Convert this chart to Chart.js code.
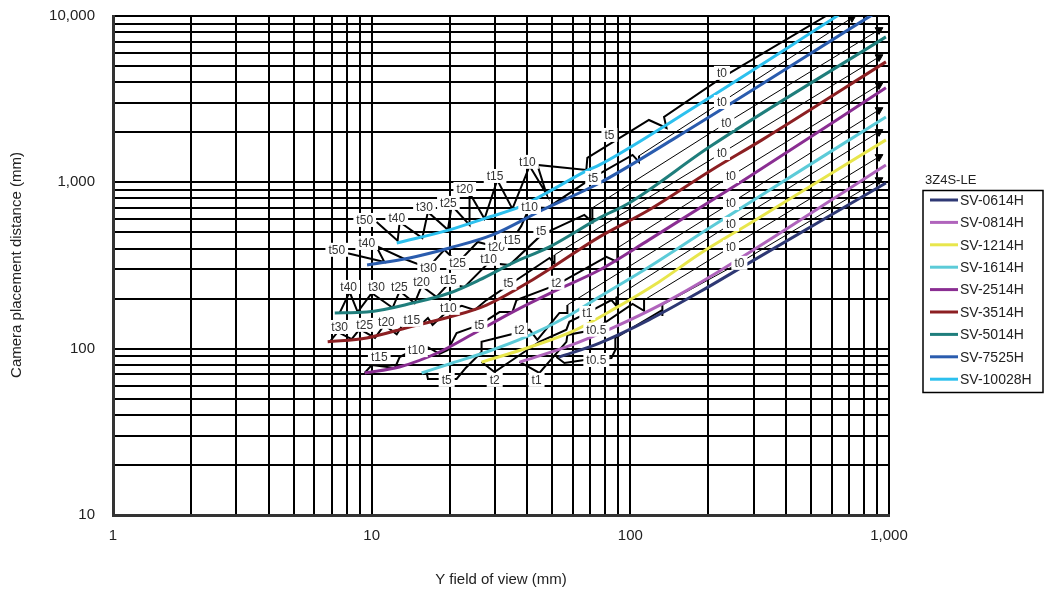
<!DOCTYPE html>
<html>
<head>
<meta charset="utf-8">
<title>3Z4S-LE</title>
<script src="https://cdn.jsdelivr.net/npm/chart.js@4.4.1/dist/chart.umd.min.js"></script>
<style>
  body { margin: 0; background: #fff; }
</style>
</head>
<body>
<canvas id="chartArea" width="1045" height="597"></canvas>
<script>
// Lens names and colours (legend order)
var lensNames = ['SV-0614H', 'SV-0814H', 'SV-1214H', 'SV-1614H', 'SV-2514H', 'SV-3514H', 'SV-5014H', 'SV-7525H', 'SV-10028H'];
var lensColors = ['#2e3874', '#b064bc', '#e8e64c', '#5ccbd8', '#8a2e92', '#8c1f22', '#1f7e7c', '#2a5cae', '#2cc0ee'];

// Tick values
var fovTicks = [1, 2, 3, 4, 5, 6, 7, 8, 9, 10, 20, 30, 40, 50, 60, 70, 80, 90, 100, 200, 300, 400, 500, 600, 700, 800, 900, 1000];
var distTicks = [10, 20, 30, 40, 50, 60, 70, 80, 90, 100, 200, 300, 400, 500, 600, 700, 800, 900, 1000, 2000, 3000, 4000, 5000, 6000, 7000, 8000, 9000, 10000];
var labelledTicks = [1, 10, 100, 1000, 10000];

// Y field of view (mm) -> camera placement distance (mm), one pair per lens
var fov0614 = [53, 76, 118, 185, 288, 973];
var dist0614 = [89, 108, 149, 219, 328, 991];
var fov0814 = [37.3, 58, 85, 133, 215, 973];
var dist0814 = [83, 104, 133, 186, 285, 1273];
var fov1214 = [26.6, 40.7, 61, 88, 129, 185, 296, 973];
var dist1214 = [83, 102, 129, 176, 252, 371, 578, 1800];
var fov1614 = [15.6, 20.5, 27.8, 39.7, 56.6, 76, 118, 202, 973];
var dist1614 = [71.4, 82, 95.5, 118, 155, 205, 310, 532, 2470];
var fov2514 = [9.4, 12.8, 18.3, 24.5, 35, 50, 76, 118, 264, 973];
var dist2514 = [71.5, 77.6, 95.5, 122, 166, 219, 297, 451, 991, 3700];
var fov3514 = [6.76, 9.57, 14, 20, 27.8, 41.8, 76, 118, 207, 323, 973];
var dist3514 = [110, 116, 135, 155, 183, 259, 470, 682, 1190, 1800, 5300];
var fov5014 = [7.2, 9.57, 14.4, 20, 26.1, 35, 48.7, 76, 99, 202, 973];
var dist5014 = [164, 166, 188, 216, 259, 327, 409, 611, 752, 1630, 7490];
var fov7525 = [9.6, 14, 20, 29.3, 45.7, 76, 145, 860];
var dist7525 = [318, 351, 403, 483, 682, 991, 1800, 10160];
var fov10028 = [12.5, 20, 27.8, 37.3, 47.4, 67.6, 76, 185, 641];
var dist10028 = [432, 518, 611, 711, 863, 1171, 1273, 2960, 10160];

// Extension-tube zigzags (thick black), fov / distance
var zig10028x = [10.45, 12.6, 12.83, 15.7, 16.5, 19.7, 20.4, 23.9, 23.9, 27.3, 30.6, 35.0, 40.8, 47.4, 43.7, 67.6, 68.2, 118, 138, 135, 226, 571];
var zig10028y = [578, 445, 578, 463, 664, 518, 726, 555, 863, 603, 1033, 692, 1254, 851, 1273, 1188, 1403, 2371, 2124, 2473, 4260, 10000];
var zig7525x = [8.0, 11.2, 10.4, 13.4, 16.5, 19.1, 21.5, 25.7, 30.4, 32.6, 35.0, 37.9, 40.8, 47.8, 71.3, 102, 108, 108];
var zig7525y = [376, 332, 415, 346, 306, 393, 328, 438, 409, 463, 451, 547, 711, 702, 1063, 1462, 1328, 1443];
var zig5014x = [7.52, 8.22, 8.83, 10.0, 12.05, 12.83, 14.65, 15.6, 17.8, 19.83, 22.86, 28.31, 34.1, 45.3, 66.4, 71.3, 71.3];
var zig5014y = [164, 219, 166, 216, 176, 222, 188, 238, 205, 245, 235, 328, 318, 483, 637, 578, 702];
var zig3514x = [6.88, 7.39, 8.37, 8.99, 10.3, 11.2, 12.5, 13.4, 15.3, 16.5, 17.2, 19.7, 22.3, 25.0, 27.8, 33.5, 48.7, 50.9, 50.9];
var zig3514y = [110, 126, 114, 131, 116, 139, 122, 145, 137, 153, 139, 169, 181, 171, 196, 238, 351, 323, 366];
var zig2514x = [9.40, 10.0, 12.3, 12.83, 14.0, 16.5, 18.3, 19.7, 21.3, 26.1, 31.2, 35.0, 36.3, 51.8, 80.8, 89.1, 89.1];
var zig2514y = [71.5, 79.8, 76.6, 89.1, 95.5, 102, 92.9, 98.2, 124, 139, 166, 166, 196, 242, 356, 332, 403];
var zig1614x = [16.3, 16.5, 21.3, 23.1, 26.6, 26.6, 40.8, 43.7, 53.2, 57.1, 57.1];
var zig1614y = [72.4, 65.8, 65.8, 76.6, 95.5, 110, 130, 113, 164, 164, 183];
var zig1214x = [26.6, 29.85, 44.5, 56.6, 58.1, 68.2, 84.5, 88.3, 88.3];
var zig1214y = [83.2, 72.4, 110, 130, 145, 164, 196, 181, 205];
var zig0814x = [37.3, 44.5, 56.6, 57.1, 72.6, 102, 113, 113];
var zig0814y = [83.2, 71.5, 110, 121, 130, 186, 169, 196];
var zig0614x = [51.8, 55.6, 66.4, 84.5, 87.5, 87.5, 133, 133, 133];
var zig0614y = [89.1, 82.0, 85.5, 87.9, 98.2, 116, 171, 157, 183];

// Thin t0 lines ending in an arrow at the right edge
var t0Line7525x = [108, 226, 719];
var t0Line7525y = [1443, 3041, 9750];
var t0Line5014x = [71.3, 235, 915];
var t0Line5014y = [702, 2274, 8250];
var t0Line3514x = [50.9, 226, 915];
var t0Line3514y = [366, 1502, 5670];
var t0Line2514x = [89.1, 245, 915];
var t0Line2514y = [403, 1092, 3850];
var t0Line1614x = [57.1, 245, 915];
var t0Line1614y = [183, 752, 2724];
var t0Line1214x = [88.3, 245, 915];
var t0Line1214y = [205, 562, 2011];
var t0Line0814x = [113, 245, 915];
var t0Line0814y = [196, 409, 1423];
var t0Line0614x = [133, 264, 915];
var t0Line0614y = [183, 328, 1033];

// Tube labels
var tagText = ['t50', 't40', 't30', 't25', 't20', 't15', 't10', 't5', 't0',
  't50', 't40', 't30', 't25', 't20', 't15', 't10', 't5', 't0',
  't40', 't30', 't25', 't20', 't15', 't10', 't5', 't0',
  't30', 't25', 't20', 't15', 't10', 't5', 't0',
  't15', 't10', 't5', 't2', 't0',
  't5', 't2', 't0',
  't2', 't1', 't0',
  't1', 't0.5', 't0',
  't0.5', 't0'];
var tagFov = [9.4, 12.5, 16, 19.8, 22.9, 30, 40, 83, 226,
  7.33, 9.57, 16.6, 21.5, 30.4, 35, 40.8, 71.9, 226,
  8.15, 10.45, 12.8, 15.6, 19.8, 28.3, 45.3, 235,
  7.52, 9.4, 11.4, 14.3, 19.8, 33.8, 226,
  10.7, 14.9, 26.1, 51.8, 245,
  19.5, 37.3, 245,
  29.9, 68.2, 245,
  43.4, 73.9, 245,
  73.9, 264];
var tagDist = [594, 611, 711, 752, 912, 1092, 1328, 1927, 4550,
  393, 432, 306, 328, 409, 451, 711, 1063, 3041,
  235, 235, 235, 252, 259, 347, 511, 2274,
  135, 139, 145, 149, 176, 249, 1502,
  89, 98, 139, 249, 1092,
  64.9, 130, 752,
  64.9, 164, 562,
  64.9, 130, 409,
  85.5, 328];

function pts(xs, ys) {
  return xs.map(function (x, i) { return { x: x, y: ys[i] }; });
}

var curves = [
  [fov0614, dist0614], [fov0814, dist0814], [fov1214, dist1214], [fov1614, dist1614], [fov2514, dist2514],
  [fov3514, dist3514], [fov5014, dist5014], [fov7525, dist7525], [fov10028, dist10028]
];
var zigs = [
  [zig0614x, zig0614y], [zig0814x, zig0814y], [zig1214x, zig1214y], [zig1614x, zig1614y], [zig2514x, zig2514y],
  [zig3514x, zig3514y], [zig5014x, zig5014y], [zig7525x, zig7525y], [zig10028x, zig10028y]
];
var thinLines = [
  [t0Line0614x, t0Line0614y], [t0Line0814x, t0Line0814y], [t0Line1214x, t0Line1214y], [t0Line1614x, t0Line1614y],
  [t0Line2514x, t0Line2514y], [t0Line3514x, t0Line3514y], [t0Line5014x, t0Line5014y], [t0Line7525x, t0Line7525y]
];

var datasets = [];
curves.forEach(function (c, i) {
  datasets.push({
    label: lensNames[i],
    data: pts(c[0], c[1]),
    borderColor: lensColors[i],
    borderWidth: 3,
    pointRadius: 0,
    cubicInterpolationMode: 'monotone',
    order: 0
  });
});
zigs.forEach(function (z) {
  datasets.push({
    label: '',
    data: pts(z[0], z[1]),
    borderColor: '#000',
    borderWidth: 2,
    pointRadius: 0,
    tension: 0,
    order: 1
  });
});
thinLines.forEach(function (t) {
  var last = t[0].length - 1;
  datasets.push({
    label: '',
    data: pts(t[0], t[1]),
    borderColor: '#000',
    backgroundColor: '#000',
    borderWidth: 1,
    tension: 0,
    pointStyle: 'triangle',
    rotation: 180,
    pointRadius: t[0].map(function (v, k) { return k === last ? 4.5 : 0; }),
    order: 1
  });
});

var FONT = '"Liberation Sans", Arial, sans-serif';

// Tube labels with white boxes
var tagPlugin = {
  id: 'tags',
  afterDatasetsDraw: function (chart) {
    var ctx = chart.ctx, xs = chart.scales.x, ys = chart.scales.y;
    ctx.save();
    ctx.font = '12px ' + FONT;
    ctx.textAlign = 'center';
    ctx.textBaseline = 'middle';
    tagText.forEach(function (t, i) {
      var px = xs.getPixelForValue(tagFov[i]);
      var py = ys.getPixelForValue(tagDist[i]);
      var w = ctx.measureText(t).width + 6;
      ctx.fillStyle = '#fff';
      ctx.fillRect(px - w / 2, py - 7, w, 14);
      ctx.fillStyle = '#333';
      ctx.fillText(t, px, py + 0.5);
    });
    ctx.restore();
  }
};

// Boxed legend on the right and the axis titles
var sidePlugin = {
  id: 'side',
  afterDraw: function (chart) {
    var ctx = chart.ctx;
    ctx.save();
    ctx.fillStyle = '#222';
    ctx.font = '13px ' + FONT;
    ctx.textAlign = 'left';
    ctx.textBaseline = 'middle';
    ctx.fillText('3Z4S-LE', 925, 180);
    ctx.strokeStyle = '#000';
    ctx.lineWidth = 1.5;
    ctx.strokeRect(923, 190.5, 120, 202);
    ctx.font = '14px ' + FONT;
    lensNames.forEach(function (name, i) {
      var y = 200 + i * 22.4;
      ctx.strokeStyle = lensColors[i];
      ctx.lineWidth = 3;
      ctx.beginPath();
      ctx.moveTo(930, y);
      ctx.lineTo(958, y);
      ctx.stroke();
      ctx.fillStyle = '#222';
      ctx.fillText(name, 960, y + 1);
    });
    ctx.font = '15px ' + FONT;
    ctx.textAlign = 'center';
    ctx.fillText('Y field of view (mm)', 501, 580);
    ctx.translate(17, 265);
    ctx.rotate(-Math.PI / 2);
    ctx.fillText('Camera placement distance (mm)', 0, 0);
    ctx.restore();
  }
};

function fmt(v) {
  return labelledTicks.indexOf(v) >= 0 ? v.toLocaleString('en-US') : '';
}

var ctx = document.getElementById('chartArea').getContext('2d');
window.fovChart = new Chart(ctx, {
  type: 'line',
  data: { datasets: datasets },
  options: {
    responsive: false,
    animation: false,
    layout: { padding: { top: 16, right: 156, left: 0, bottom: 0 } },
    plugins: { legend: { display: false }, tooltip: { enabled: false } },
    scales: {
      x: {
        type: 'logarithmic',
        min: 1,
        max: 1000,
        afterBuildTicks: function (scale) {
          scale.ticks = fovTicks.map(function (v) { return { value: v }; });
        },
        afterFit: function (scale) {
          scale.height = 82;
          scale.paddingLeft = 0;
          scale.paddingRight = 0;
        },
        grid: { color: '#000', lineWidth: 2, drawTicks: false },
        border: { color: '#333', width: 3 },
        ticks: {
          autoSkip: false,
          maxRotation: 0,
          padding: 12,
          color: '#222',
          font: { family: FONT, size: 15 },
          callback: fmt
        }
      },
      y: {
        type: 'logarithmic',
        min: 10,
        max: 10000,
        afterBuildTicks: function (scale) {
          scale.ticks = distTicks.map(function (v) { return { value: v }; });
        },
        afterFit: function (scale) {
          scale.width = 113;
          scale.paddingTop = 0;
          scale.paddingBottom = 0;
        },
        grid: { color: '#000', lineWidth: 2, drawTicks: false },
        border: { color: '#333', width: 3 },
        ticks: {
          autoSkip: false,
          padding: 18,
          color: '#222',
          font: { family: FONT, size: 15 },
          callback: fmt
        }
      }
    }
  },
  plugins: [tagPlugin, sidePlugin]
});
</script>
</body>
</html>
